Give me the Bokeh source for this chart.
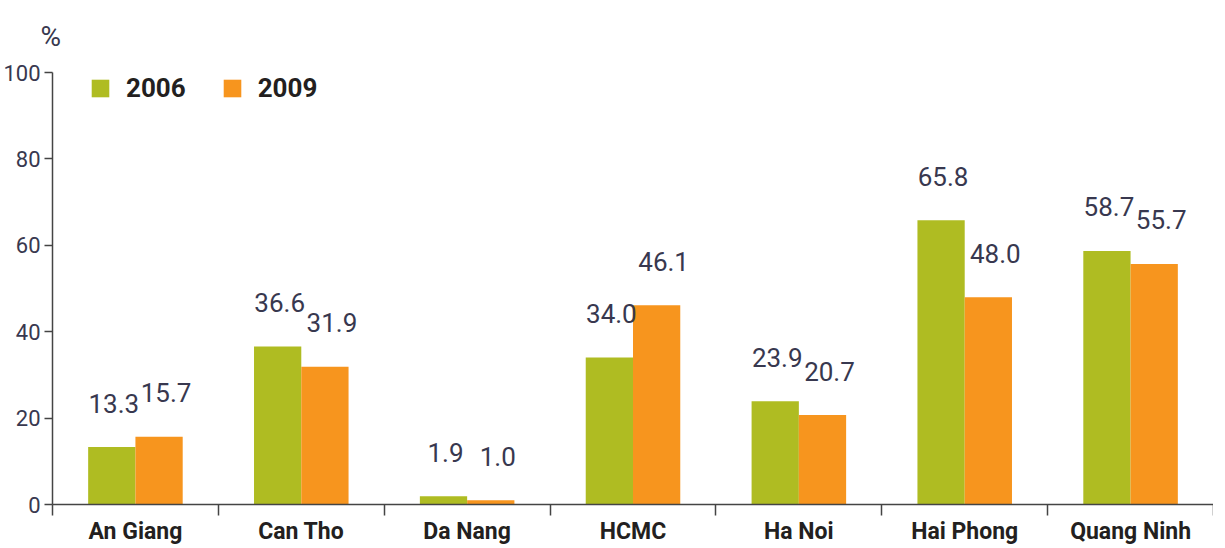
import numpy as np
from bokeh.plotting import figure
from bokeh.models import ColumnDataSource, FixedTicker, Legend, LegendItem, Range1d
from bokeh.transform import dodge
from bokeh.core.properties import value
from bokeh.embed import file_html
from bokeh.resources import INLINE

categories = ["An Giang", "Can Tho", "Da Nang", "HCMC", "Ha Noi", "Hai Phong", "Quang Ninh"]
values_2006 = [13.3, 36.6, 1.9, 34.0, 23.9, 65.8, 58.7]
values_2009 = [15.7, 31.9, 1.0, 46.1, 20.7, 48.0, 55.7]
series_names = ["2006", "2009"]
y_ticks = [0, 20, 40, 60, 80, 100]

GREEN = "#afbc22"
ORANGE = "#f7951e"
TXT = "#38384f"
FONT = "Roboto"

centers = list(np.arange(len(categories)) + 0.5)
src = ColumnDataSource(dict(
    x=centers,
    v06=values_2006,
    v09=values_2009,
    t06=[f"{v:.1f}" for v in values_2006],
    t09=[f"{v:.1f}" for v in values_2009],
))

FH = 432
p = figure(frame_width=1161, frame_height=FH, output_backend="svg", toolbar_location=None,
           x_range=Range1d(0, len(categories)), y_range=Range1d(0, 100),
           min_border_left=48, min_border_right=0, min_border_top=72, min_border_bottom=30,
           title="%")
p.outline_line_color = None
p.xgrid.visible = False
p.ygrid.visible = False
p.background_fill_color = "white"

p.title.text_font = FONT
p.title.text_font_style = "normal"
p.title.text_font_size = "28px"
p.title.text_color = TXT
p.title.align = "left"
p.title.vertical_align = "top"
p.title.offset = -12
p.title.standoff = 36

bw = 0.285
r06 = p.vbar(x=dodge("x", -bw / 2), top="v06", width=bw, source=src, fill_color=GREEN, line_color=None)
r09 = p.vbar(x=dodge("x", bw / 2), top="v09", width=bw, source=src, fill_color=ORANGE, line_color=None)

for col, txt, d, xo in (("v06", "t06", -bw / 2, 2), ("v09", "t09", bw / 2, 7)):
    p.text(x=dodge("x", d), y=col, text=txt, source=src, text_align="center",
           text_baseline="alphabetic", y_offset=-44, x_offset=xo,
           text_font=value(FONT), text_font_size="26px", text_color=TXT)

# y axis
ya = p.yaxis[0]
ya.ticker = FixedTicker(ticks=y_ticks)
ya.major_tick_out = 8
ya.major_tick_in = 0
ya.minor_tick_out = 0
ya.minor_tick_in = 0
ya.axis_line_color = "#444444"
ya.axis_line_width = 1.5
ya.major_tick_line_color = "#444444"
ya.major_tick_line_width = 1.5
ya.major_label_text_font = FONT
ya.major_label_text_font_size = "22px"
ya.major_label_text_color = TXT
ya.major_label_standoff = 4

# x axis
xa = p.xaxis[0]
xa.ticker = FixedTicker(ticks=centers, minor_ticks=list(range(len(categories) + 1)))
xa.major_label_overrides = {c: name for c, name in zip(centers, categories)}
xa.major_tick_out = 0
xa.major_tick_in = 0
xa.minor_tick_out = 11
xa.minor_tick_in = 0
xa.minor_tick_line_color = "#444444"
xa.minor_tick_line_width = 1.5
xa.axis_line_color = "#444444"
xa.axis_line_width = 1.5
xa.major_label_text_font = FONT
xa.major_label_text_font_style = "bold"
xa.major_label_text_font_size = "23px"
xa.major_label_text_color = "#231f20"
xa.major_label_standoff = 2

legend = Legend(items=[LegendItem(label=series_names[0], renderers=[r06]),
                       LegendItem(label=series_names[1], renderers=[r09])],
                orientation="horizontal", location=(37, FH - 15 - 16),
                glyph_width=22, glyph_height=22, label_standoff=15, spacing=35,
                padding=0, margin=0, border_line_color=None, background_fill_alpha=0,
                label_text_font=FONT, label_text_font_style="bold",
                label_text_font_size="26px", label_text_color="#231f20")
p.add_layout(legend, "center")

open("out.html", "w").write(file_html(p, INLINE))
